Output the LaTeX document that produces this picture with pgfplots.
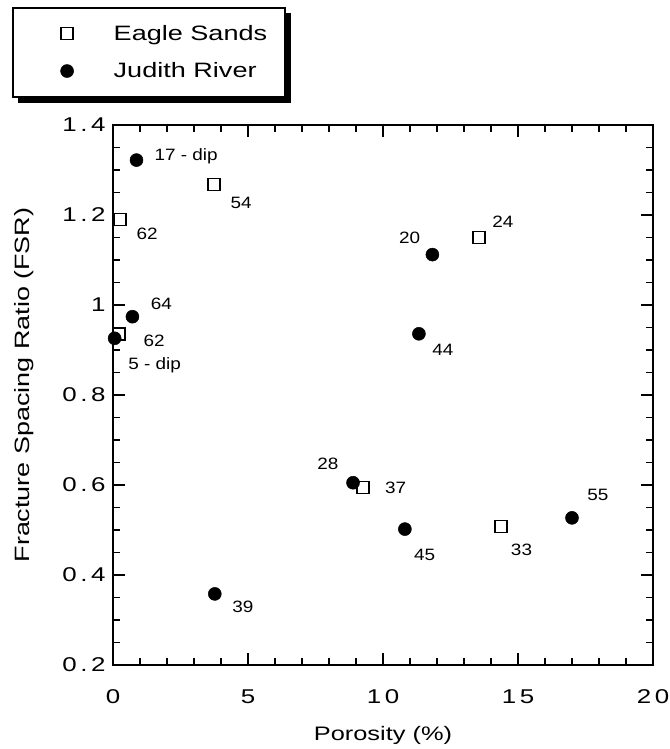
\documentclass[border=0pt]{standalone}
\usepackage{fontspec}
\setmainfont{Liberation Sans}[FakeStretch=1.3]
\newfontfamily\tickfont{Liberation Sans}[FakeStretch=1.3,LetterSpace=18]
\newfontfamily\labfont{Liberation Sans}[FakeStretch=1.15]
\usepackage{pgfplots}
\pgfplotsset{compat=1.18}
\pgfplotsset{myleg/.style={legend image code/.code={\path (0bp,0bp) (80bp,0bp); \draw[##1] plot coordinates {(53.6bp,0bp)};}}}
\pgfplotstableread{
x y
3.73 1.268
0.27 1.190
0.22 0.936
13.56 1.150
9.26 0.594
14.36 0.508
}\eagle
\pgfplotstableread{
x y
0.87 1.322
0.72 0.974
0.06 0.926
11.83 1.112
11.33 0.936
3.77 0.358
8.89 0.605
10.81 0.502
17.00 0.527
}\judith
\begin{document}
\begin{tikzpicture}
\useasboundingbox (-113bp,-84bp) rectangle (557bp,665bp);
% legend frame with drop shadow
\fill[black] (-95bp,562bp) rectangle (178bp,652bp);
\draw[fill=white, line width=2.6bp] (-100bp,568bp) rectangle (172bp,657bp);
\begin{axis}[
  scale only axis, width=540bp, height=540bp,
  xmin=0, xmax=20, ymin=0.2, ymax=1.4,
  xtick={0,5,10,15,20}, ytick={0.2,0.4,0.6,0.8,1,1.2,1.4},
  minor x tick num=4, minor y tick num=3,
  tick align=inside, major tick length=12bp, minor tick length=7bp,
  axis line style={line width=1.8bp},
  every tick/.append style={line width=1.5bp, black},
  clip=false,
  /pgf/number format/assume math mode=true,
  ticklabel style={font=\tickfont\fontsize{20}{24}\selectfont},
  xticklabel style={yshift=-21bp},
  yticklabel style={xshift=-4bp},
  xlabel={Porosity (\%)},
  ylabel={Fracture Spacing Ratio (FSR)},
  xlabel style={font=\fontsize{19.6}{24}\selectfont, at={(axis description cs:0.5,-0.13)}, anchor=center},
  ylabel style={font=\fontsize{20.8}{24}\selectfont, at={(axis description cs:-0.165,0.5185)}, anchor=center},
  legend style={at={(axis description cs:-0.185,1.2167)}, anchor=north west,
    draw=none, fill=none,
    font=\fontsize{20.9}{25}\selectfont,
    inner xsep=0bp, inner ysep=15bp, row sep=17bp, column sep=20bp,
    nodes={inner xsep=0bp},
    cells={anchor=west}},
  legend cell align=left,
]
\addplot[only marks, mark=square*, mark size=6bp, mark options={fill=white, draw=black, line width=1.6bp}, myleg] table {\eagle};
\addlegendentry{Eagle Sands}
\addplot[only marks, mark=*, mark size=6.5bp, mark options={fill=black, draw=black, line width=0.5bp}, myleg] table {\judith};
\addlegendentry{Judith River}
\begin{scope}[every node/.style={font=\labfont\fontsize{16.5}{20}\selectfont}]
\node[anchor=west] at (axis cs:1.41,1.331) {17 - dip};
\node at (axis cs:4.75,1.226) {54};
\node at (axis cs:1.26,1.158) {62};
\node at (axis cs:1.79,1.002) {64};
\node at (axis cs:1.52,0.921) {62};
\node[anchor=west] at (axis cs:0.44,0.867) {5 - dip};
\node at (axis cs:10.99,1.150) {20};
\node at (axis cs:14.44,1.185) {24};
\node at (axis cs:12.22,0.900) {44};
\node at (axis cs:7.96,0.648) {28};
\node at (axis cs:10.47,0.594) {37};
\node at (axis cs:4.81,0.330) {39};
\node at (axis cs:11.54,0.444) {45};
\node at (axis cs:15.13,0.456) {33};
\node at (axis cs:17.96,0.578) {55};
\end{scope}
\end{axis}
\end{tikzpicture}
\end{document}
